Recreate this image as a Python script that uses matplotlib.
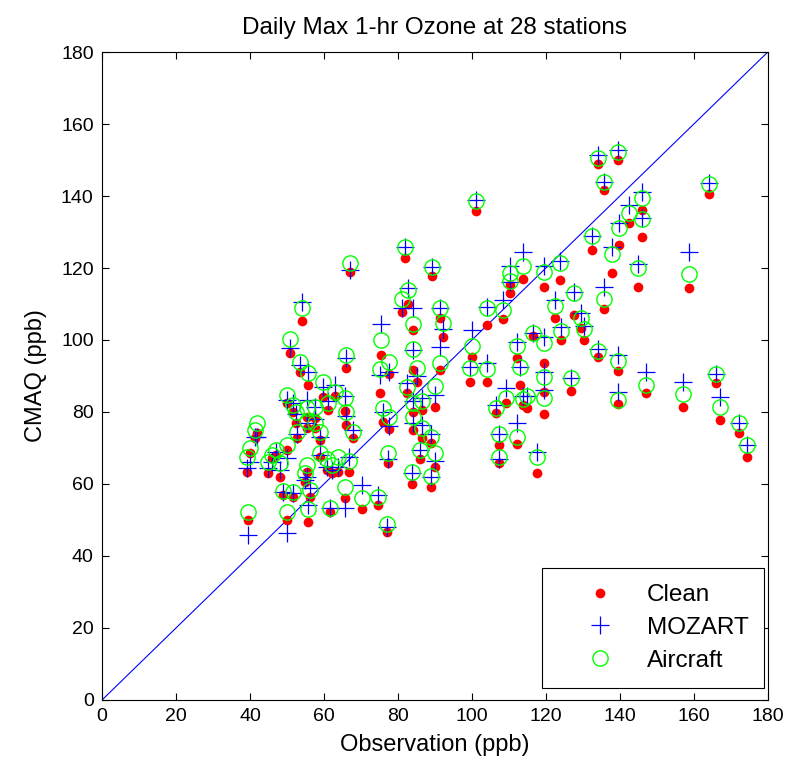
import matplotlib
matplotlib.use("Agg")
import matplotlib.pyplot as plt
import numpy as np

plt.rcParams['font.family'] = ['Liberation Sans', 'DejaVu Sans']

# Observation (ppb) for each station-day
obs = [134.2, 139.4, 135.6, 164.0, 146.0, 142.5, 146.0, 139.7, 132.6, 137.8,
       144.8, 158.6, 101.0, 123.7, 119.6, 135.6, 127.5, 122.6, 129.4, 130.2,
       124.0, 116.6, 119.5, 119.4, 119.6, 134.2, 139.6, 147.0, 157.0, 165.9,
       167.0, 172.1, 174.3, 139.6, 126.9, 117.5, 104.2, 108.5, 113.7, 110.4,
       110.4, 112.3, 100.1, 113.1, 113.7, 104.2, 99.6, 91.5, 89.3, 82.0,
       67.1, 82.8, 81.0, 84.2, 75.5, 91.5, 92.3, 54.0, 50.9, 53.5,
       55.8, 59.8, 63.0, 66.0, 65.8, 61.2, 66.0, 67.9, 50.0, 51.7,
       55.5, 57.6, 42.0, 40.0, 39.2, 46.0, 45.0, 48.2, 50.0, 52.8,
       55.5, 57.6, 59.0, 59.0, 55.5, 62.2, 54.9, 51.7, 49.0, 56.3,
       39.5, 50.0, 61.7, 55.8, 75.2, 76.0, 77.5, 77.1, 74.5, 77.4,
       82.5, 89.9, 84.2, 86.6, 84.2, 86.6, 89.0, 90.1, 86.0, 83.9,
       89.0, 106.4, 107.2, 107.2, 112.3, 109.3, 115.0, 84.2, 77.7, 85.2,
       63.9, 66.8, 65.8, 70.4, 41.4, 47.0, 52.5, 60.9]

# CMAQ with clean boundary conditions (ppb)
clean = [149.0, 150.0, 141.7, 140.6, 136.0, 132.5, 128.6, 126.4, 125.0, 118.6,
         114.7, 114.4, 135.8, 116.7, 114.7, 108.6, 107.0, 106.0, 103.3, 100.0,
         100.0, 101.0, 93.6, 85.5, 79.4, 95.3, 91.4, 85.2, 81.4, 88.0,
         77.8, 74.2, 67.5, 82.2, 85.8, 63.0, 104.2, 105.8, 116.9, 115.3,
         113.0, 95.0, 95.3, 87.5, 81.9, 88.3, 88.3, 91.7, 117.8, 122.7,
         118.9, 110.0, 107.8, 102.8, 95.8, 106.1, 100.8, 105.3, 96.4, 91.0,
         87.5, 84.3, 84.5, 92.2, 80.3, 80.6, 76.4, 72.8, 82.6, 80.0,
         78.5, 78.3, 74.2, 68.6, 63.3, 67.2, 63.0, 62.0, 69.4, 72.8,
         75.5, 75.6, 72.2, 67.5, 63.3, 63.0, 60.5, 56.4, 57.0, 56.4,
         50.0, 50.0, 52.2, 49.4, 85.3, 77.2, 75.3, 46.7, 54.2, 65.8,
         85.3, 81.4, 80.0, 80.6, 75.0, 72.8, 71.4, 64.7, 66.9, 60.0,
         59.2, 79.7, 70.8, 65.8, 71.1, 82.5, 81.1, 91.7, 90.5, 88.3,
         63.3, 63.3, 56.1, 53.0, 72.8, 68.0, 77.0, 64.0]

# CMAQ with MOZART boundary conditions (ppb)
mozart = [151.4, 152.8, 143.9, 143.6, 141.0, 137.5, 134.0, 132.5, 129.0, 125.8,
          121.0, 124.4, 139.0, 122.0, 120.5, 114.7, 113.3, 111.0, 107.5, 104.0,
          103.5, 102.0, 100.8, 91.0, 86.1, 97.5, 95.8, 91.0, 88.3, 90.5,
          84.2, 76.9, 70.8, 85.6, 89.4, 68.9, 109.2, 111.0, 124.4, 120.5,
          116.0, 99.5, 102.8, 92.5, 84.5, 93.6, 92.5, 98.0, 120.3, 125.8,
          119.4, 114.4, 108.9, 108.9, 104.5, 108.9, 103.0, 110.6, 97.8, 93.0,
          91.1, 87.0, 87.5, 95.0, 84.5, 83.0, 79.0, 75.0, 83.3, 82.5,
          83.3, 81.4, 73.0, 66.0, 64.4, 66.0, 64.4, 64.0, 67.2, 74.0,
          77.0, 78.0, 73.0, 68.0, 62.0, 64.0, 61.0, 57.5, 57.8, 58.9,
          45.8, 46.4, 53.3, 54.2, 90.3, 80.0, 76.0, 48.0, 57.0, 67.0,
          88.0, 84.7, 83.0, 84.0, 77.0, 76.5, 74.0, 66.5, 69.4, 63.0,
          62.0, 82.0, 73.9, 67.0, 76.9, 86.7, 84.4, 97.2, 91.0, 90.0,
          64.7, 67.5, 53.3, 59.7, 73.0, 69.0, 79.5, 64.7]

# CMAQ with aircraft-based boundary conditions (ppb)
aircraft = [150.5, 152.3, 144.0, 143.2, 139.4, 135.3, 133.5, 131.0, 129.0, 124.0,
            120.0, 118.3, 138.5, 121.5, 119.0, 111.4, 113.0, 109.4, 106.0, 103.0,
            102.5, 102.0, 99.3, 89.7, 83.9, 97.0, 94.2, 87.5, 85.0, 90.5,
            81.4, 76.9, 70.8, 83.3, 89.4, 67.5, 109.0, 108.3, 120.6, 118.6,
            116.5, 98.3, 98.3, 92.5, 83.5, 92.0, 92.2, 93.6, 120.3, 125.8,
            121.4, 114.0, 111.4, 104.5, 100.0, 108.9, 104.7, 108.8, 100.3, 93.9,
            90.8, 88.2, 85.5, 95.8, 83.9, 82.5, 80.0, 74.4, 84.7, 81.9,
            81.1, 81.5, 76.9, 70.0, 67.5, 68.0, 66.0, 65.8, 70.8, 74.4,
            77.5, 77.0, 74.4, 68.6, 65.3, 65.3, 63.0, 57.8, 58.0, 58.3,
            52.2, 52.2, 53.3, 53.0, 91.9, 81.1, 78.5, 48.9, 56.5, 68.6,
            87.0, 87.2, 82.5, 83.0, 78.6, 75.5, 73.0, 68.6, 69.4, 63.3,
            62.2, 81.1, 73.9, 67.5, 73.0, 83.9, 84.4, 97.5, 93.9, 92.2,
            67.5, 66.5, 59.2, 56.1, 75.0, 69.5, 80.0, 67.0]

ticks = [0, 20, 40, 60, 80, 100, 120, 140, 160, 180]

fig = plt.figure(figsize=(7.94, 7.65), dpi=100)
ax = fig.add_axes([0.1285, 0.085, 0.8385, 0.847])

ax.plot([0, 180], [0, 180], color='#0000ff', lw=0.8, zorder=1)
ax.plot(obs, clean, 'o', color='#ff0000', markersize=7, markeredgewidth=0,
        label='Clean', zorder=2)
ax.plot(obs, mozart, '+', color='#0000ff', markersize=12.5, markeredgewidth=0.9,
        label='MOZART', zorder=3)
ax.plot(obs, aircraft, 'o', markerfacecolor='none', markeredgecolor='#00ff00',
        markersize=11, markeredgewidth=1.0, label='Aircraft', zorder=4)

ax.set_xlim(0, 180)
ax.set_ylim(0, 180)
ax.set_xticks(ticks)
ax.set_yticks(ticks)
ax.tick_params(direction='in', top=True, right=True, length=5, width=0.8,
               labelsize=14, pad=6)
for s in ax.spines.values():
    s.set_linewidth(0.8)

ax.set_xlabel('Observation (ppb)', fontsize=17, labelpad=6)
ax.set_ylabel('CMAQ (ppb)', fontsize=17, labelpad=10)
ax.set_title('Daily Max 1-hr Ozone at 28 stations', fontsize=17.5, pad=13)

leg = ax.legend(loc='lower right', bbox_to_anchor=(0.995, 0.0185), fontsize=17.5,
                fancybox=False, edgecolor='black', framealpha=1,
                borderpad=0.66, labelspacing=0.45, handletextpad=0.15,
                handlelength=3.5, borderaxespad=0)
leg.get_frame().set_linewidth(0.8)

fig.savefig('out.png', dpi=100)
